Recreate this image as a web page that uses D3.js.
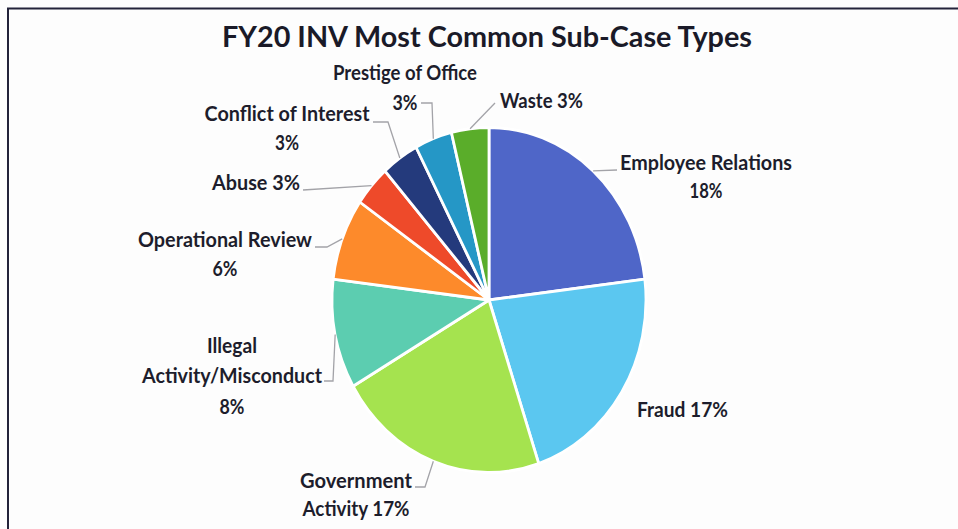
<!DOCTYPE html>
<html>
<head>
<meta charset="utf-8">
<script src="https://cdn.jsdelivr.net/npm/d3@7"></script>
<style>
  html, body { margin: 0; padding: 0; background: #fdfdfd; }
  svg { display: block; }
</style>
</head>
<body>
<svg id="chart" width="958" height="529"></svg>
<script>
// ---- data ----
const categories = ["Employee Relations", "Fraud", "Government Activity", "Illegal Activity/Misconduct",
  "Operational Review", "Abuse", "Conflict of Interest", "Prestige of Office", "Waste"];
const values = [18, 17, 17, 8, 6, 3, 3, 3, 3];
const labelLines = [
  ["Employee Relations", "18%"],
  ["Fraud 17%"],
  ["Government", "Activity 17%"],
  ["Illegal", "Activity/Misconduct", "8%"],
  ["Operational Review", "6%"],
  ["Abuse 3%"],
  ["Conflict of Interest", "3%"],
  ["Prestige of Office", "3%"],
  ["Waste 3%"]
];
const colors = ["#4f66c8", "#5bc7f0", "#a5e34f", "#5ccdb0", "#fd8a2b", "#ee4a2a", "#243a7c", "#2597c6", "#5aad2a"];
const title = "FY20 INV Most Common Sub-Case Types";

// ---- layout (positions / sizes) ----
const W = 958, H = 529;
const cx = 489, cy = 300, rx = 157, ry = 172.5;
const textStretch = 1.12;
const labelLayout = [
  { x: 706, y: [170, 198], w: [172, 33], anchor: "middle", leader: [[617, 170], [617, 170]] },
  { x: 637, y: [417], w: [91], anchor: "start", leader: null },
  { x: 356, y: [488, 516], w: [112, 107], anchor: "middle", leader: [[415, 487], [425, 487]] },
  { x: 232, y: [353, 383, 414], w: [50, 180, 25], anchor: "middle", leader: [[324, 381], [333, 381]] },
  { x: 225, y: [247, 276], w: [174, 25], anchor: "middle", leader: [[315, 247], [327, 247]] },
  { x: 212, y: [190], w: [88], anchor: "start", leader: [[303, 190], [303, 190]] },
  { x: 287, y: [121, 150], w: [165, 24], anchor: "middle", leader: [[373, 122], [388, 122]] },
  { x: 405, y: [80, 110], w: [144, 25], anchor: "middle", leader: [[421, 103], [432, 103]] },
  { x: 500, y: [108], w: [83], anchor: "start", leader: [[495, 103], [495, 103]] }
];

const svg = d3.select("#chart");
const fontFam = "Lato, 'Open Sans', 'DejaVu Sans', sans-serif";

svg.append("rect").attr("width", W).attr("height", H).attr("fill", "#fdfdfd");
// frame lines (top and left)
svg.append("line").attr("x1", 7).attr("x2", W).attr("y1", 8.5).attr("y2", 8.5)
  .attr("stroke", "#23233a").attr("stroke-width", 2);
svg.append("line").attr("x1", 8).attr("x2", 8).attr("y1", 8).attr("y2", H)
  .attr("stroke", "#23233a").attr("stroke-width", 2);

// title
svg.append("text")
  .attr("transform", `translate(487,47) scale(1,${textStretch})`)
  .attr("text-anchor", "middle")
  .attr("font-family", fontFam).attr("font-weight", 700).attr("font-size", 26)
  .attr("fill", "#1a1a28")
  .attr("textLength", 530).attr("lengthAdjust", "spacingAndGlyphs")
  .text(title);

// pie
const pie = d3.pie().sort(null).value(d => d).startAngle(0).endAngle(2 * Math.PI);
const arcs = pie(values);
const arc = d3.arc().innerRadius(0).outerRadius(rx);

const g = svg.append("g").attr("transform", `translate(${cx},${cy}) scale(1,${ry / rx})`);
g.selectAll("path").data(arcs).join("path")
  .attr("d", arc)
  .attr("fill", (d, i) => colors[i])
  .attr("stroke", "#ffffff")
  .attr("stroke-width", 2.8)
  .attr("vector-effect", "non-scaling-stroke")
  .attr("stroke-linejoin", "round");

// leader lines: from label elbow to the slice's mid-angle edge point
function edgePoint(d) {
  const a = (d.startAngle + d.endAngle) / 2;
  return [cx + rx * Math.sin(a), cy - ry * Math.cos(a)];
}
const leaderG = svg.append("g");
arcs.forEach((d, i) => {
  const L = labelLayout[i];
  if (!L.leader) return;
  const pts = [L.leader[0], L.leader[1], edgePoint(d)];
  leaderG.append("path")
    .attr("d", d3.line()(pts))
    .attr("fill", "none")
    .attr("stroke", "#a3a3a8")
    .attr("stroke-width", 1.3);
});

// labels
const labG = svg.append("g").attr("font-family", fontFam).attr("font-weight", 700)
  .attr("font-size", 18).attr("fill", "#1d1d2c");
labelLines.forEach((lines, i) => {
  const L = labelLayout[i];
  lines.forEach((t, j) => {
    labG.append("text")
      .attr("transform", `translate(${L.x},${L.y[j]}) scale(1,${textStretch})`)
      .attr("text-anchor", L.anchor)
      .attr("textLength", L.w[j]).attr("lengthAdjust", "spacingAndGlyphs")
      .text(t);
  });
});
</script>
</body>
</html>
